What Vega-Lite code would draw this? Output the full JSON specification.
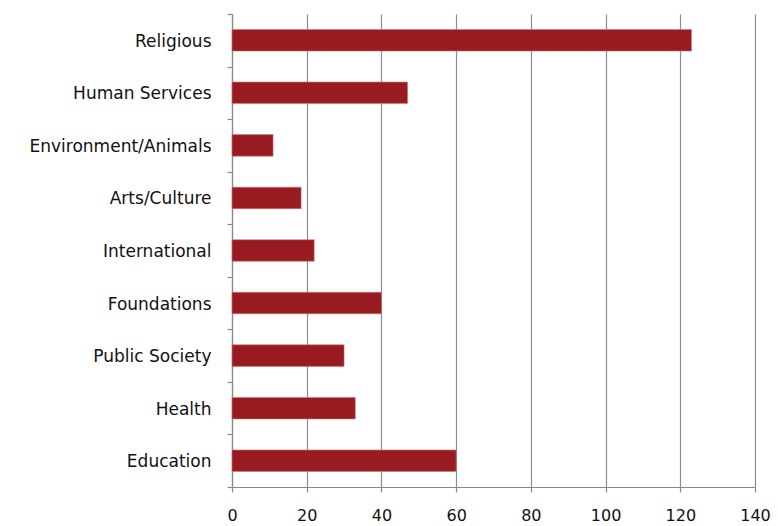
{
  "$schema": "https://vega.github.io/schema/vega-lite/v6.json",
  "autosize": "none",
  "width": 523,
  "height": 473,
  "padding": {"left": 232, "top": 14, "right": 23, "bottom": 39},
  "background": "white",
  "config": {"view": {"stroke": null}},
  "data": {"values": [
    {"category": "Religious", "value": 123},
    {"category": "Human Services", "value": 47},
    {"category": "Environment/Animals", "value": 11},
    {"category": "Arts/Culture\u00a0", "value": 18.5},
    {"category": "International", "value": 22},
    {"category": "Foundations", "value": 40},
    {"category": "Public Society", "value": 30},
    {"category": "Health", "value": 33},
    {"category": "Education", "value": 60}
  ]},
  "mark": {"type": "bar", "color": "#981B22", "stroke": "#c97a7e", "strokeWidth": 0.6, "height": {"band": 0.41}},
  "encoding": {
    "y": {
      "field": "category", "type": "nominal", "sort": null,
      "scale": {"paddingInner": 0, "paddingOuter": 0},
      "axis": {
        "title": null, "tickBand": "extent", "tickSize": 5, "tickColor": "#888888",
        "tickWidth": 1.2, "domainColor": "#888888", "domainWidth": 1.2,
        "labelPadding": 16, "labelFont": "DejaVu Sans", "labelLimit": 400,
        "labelFontSize": 17, "labelColor": "#111111", "grid": false, "labelOffset": 1
      }
    },
    "x": {
      "field": "value", "type": "quantitative",
      "scale": {"domain": [0, 140], "nice": false},
      "axis": {
        "title": null, "values": [0, 20, 40, 60, 80, 100, 120, 140],
        "grid": true, "gridColor": "#8c8c8c", "gridOpacity": 1, "gridWidth": 1.2,
        "tickSize": 5, "tickColor": "#888888", "tickWidth": 1.2,
        "domainColor": "#888888", "domainWidth": 1.2,
        "labelPadding": 15, "labelFont": "DejaVu Sans", "labelFontSize": 16,
        "labelColor": "#111111", "labelFlush": false
      }
    }
  }
}
